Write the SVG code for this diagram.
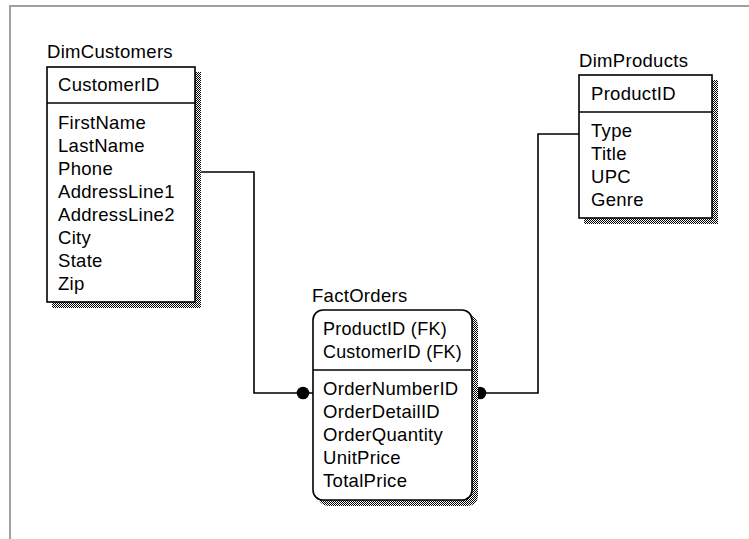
<svg xmlns="http://www.w3.org/2000/svg" width="749" height="539" viewBox="0 0 749 539">
  <defs>
    <!-- dithered drop shadow -->
    <pattern id="dither" width="2" height="2" patternUnits="userSpaceOnUse">
      <rect width="2" height="2" fill="#ffffff"/>
      <rect x="0" y="0" width="1" height="1" fill="#000000"/>
      <rect x="1" y="1" width="1" height="1" fill="#000000"/>
    </pattern>
  </defs>
  <style>
    text { font-family: "Liberation Sans", Arial, sans-serif; font-size: 18.5px; letter-spacing: 0.3px; fill: #000; }
    .box { fill: #ffffff; stroke: #000; stroke-width: 1.6; }
    .shadow { fill: url(#dither); stroke: none; }
    .sep { stroke: #000; stroke-width: 1.6; }
    .conn { fill: none; stroke: #000; stroke-width: 1.6; }
    .dot { fill: #000; }
    .frame { fill: none; stroke: #a0a0a0; stroke-width: 2; }
  </style>

  <rect width="749" height="539" fill="#ffffff"/>
  <path class="frame" d="M10,539 V6 H749"/>

  <g id="connectors">
    <path class="conn" d="M195,172 H254 V393 H313"/>
    <circle class="dot" cx="303" cy="393" r="6.3"/>
    <path class="conn" d="M472,393 H538 V134 H579"/>
    <circle class="dot" cx="480" cy="393" r="6.3"/>
  </g>

  <g id="DimCustomers">
    <text x="47" y="58">DimCustomers</text>
    <rect class="shadow" x="52" y="72" width="149" height="236"/>
    <rect class="box" x="47" y="67" width="148" height="235"/>
    <line class="sep" x1="47" y1="103" x2="195" y2="103"/>
    <text x="58" y="91">CustomerID</text>
    <text x="58" y="129">FirstName</text>
    <text x="58" y="152">LastName</text>
    <text x="58" y="175">Phone</text>
    <text x="58" y="198">AddressLine1</text>
    <text x="58" y="221">AddressLine2</text>
    <text x="58" y="244">City</text>
    <text x="58" y="267">State</text>
    <text x="58" y="290">Zip</text>
  </g>

  <g id="DimProducts">
    <text x="579" y="67">DimProducts</text>
    <rect class="shadow" x="584" y="80" width="134" height="144"/>
    <rect class="box" x="579" y="75" width="133" height="143"/>
    <line class="sep" x1="579" y1="112" x2="712" y2="112"/>
    <text x="591" y="100">ProductID</text>
    <text x="591" y="137">Type</text>
    <text x="591" y="160">Title</text>
    <text x="591" y="183">UPC</text>
    <text x="591" y="206">Genre</text>
  </g>

  <g id="FactOrders">
    <text x="312" y="302">FactOrders</text>
    <rect class="shadow" x="318" y="315" width="160" height="191" rx="10"/>
    <rect class="box" x="313" y="310" width="159" height="190" rx="10"/>
    <line class="sep" x1="313" y1="370" x2="472" y2="370"/>
    <text x="323" y="335" textLength="124" lengthAdjust="spacingAndGlyphs">ProductID (FK)</text>
    <text x="323" y="358" textLength="139" lengthAdjust="spacingAndGlyphs">CustomerID (FK)</text>
    <text x="323" y="395">OrderNumberID</text>
    <text x="323" y="418">OrderDetailID</text>
    <text x="323" y="441">OrderQuantity</text>
    <text x="323" y="464">UnitPrice</text>
    <text x="323" y="487">TotalPrice</text>
  </g>
</svg>
